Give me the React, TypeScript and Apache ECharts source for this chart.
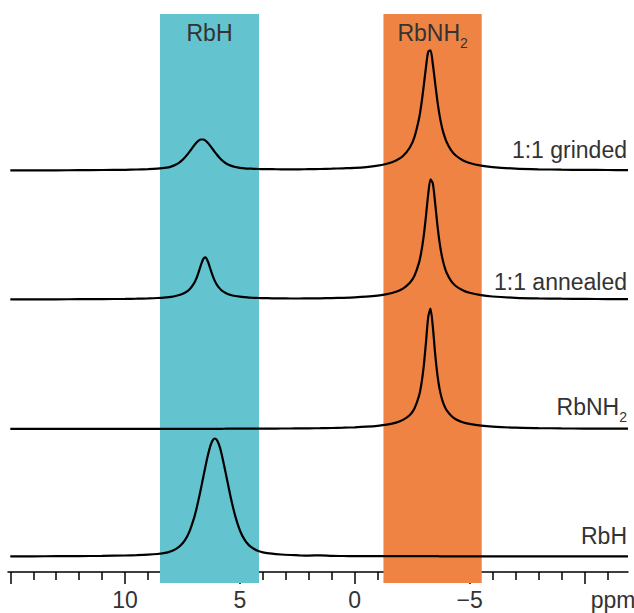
import { useEffect, useRef } from 'react';
import * as echarts from 'echarts';

// chemical shift grid (ppm), shared by all traces
const ppm = [
  15, 14, 13, 12, 11, 10, 9.5, 9, 8.6, 8.2, 8.0, 7.8, 7.6, 7.4, 7.2, 7.0,
  6.9, 6.8, 6.7, 6.6, 6.5, 6.4, 6.3, 6.2, 6.1, 6.0, 5.9, 5.8, 5.6, 5.4, 5.2, 5.0,
  4.8, 4.6, 4.4, 4.2, 4.0, 3.6, 3.2, 2.8, 2.4, 2.0, 1.5, 1.0, 0.5, 0,
  -0.5, -1.0, -1.4, -1.8, -2.1, -2.4, -2.6, -2.8, -2.9, -3.0, -3.1, -3.2, -3.3, -3.4,
  -3.5, -3.6, -3.7, -3.8, -3.9, -4.0, -4.2, -4.4, -4.7, -5.0, -5.5, -6, -7, -8, -9,
  -10, -11, -11.9,
];

// intensities above each trace's own baseline
const grinded = [
  0.2, 0.2, 0.2, 0.3, 0.5, 0.7, 1.0, 1.3, 1.8, 2.8, 3.9, 5.7, 8.6, 13.0, 18.7, 24.9,
  27.7, 29.9, 31.0, 31.0, 29.9, 27.7, 24.9, 21.8, 18.7, 15.7, 13.0, 10.6, 7.0, 4.9, 3.5, 2.7,
  2.2, 1.9, 1.7, 1.5, 1.4, 1.3, 1.2, 1.2, 1.2, 1.3, 1.5, 1.8, 2.2, 2.6,
  3.4, 4.8, 6.7, 10.0, 14.5, 23.0, 33.4, 51.9, 66.0, 83.8, 103.0, 118.8, 120.2, 106.5,
  87.7, 69.3, 54.4, 43.1, 34.8, 28.5, 20.1, 15.0, 10.3, 7.5, 4.8, 3.4, 1.9, 1.2, 0.8,
  0.6, 0.5, 0.4,
];
const annealed = [
  0.2, 0.2, 0.2, 0.3, 0.4, 0.6, 0.8, 1.1, 1.5, 2.2, 2.7, 3.5, 4.7, 6.7, 10.0, 16.1,
  20.9, 27.2, 34.3, 40.4, 42.1, 38.3, 31.5, 24.6, 18.9, 14.7, 11.6, 9.2, 6.3, 4.5, 3.5, 2.8,
  2.3, 1.9, 1.7, 1.5, 1.4, 1.2, 1.1, 1.0, 1.0, 1.1, 1.2, 1.4, 1.7, 2.1,
  2.8, 3.9, 5.3, 7.7, 10.9, 16.7, 23.8, 36.9, 47.7, 62.8, 83.1, 105.4, 120.1, 116.1,
  96.7, 74.4, 56.2, 42.9, 33.5, 26.8, 18.4, 13.5, 9.2, 6.7, 4.3, 3.0, 1.7, 1.1, 0.8,
  0.6, 0.4, 0.4,
];
const rbnh2 = [
  0.1, 0.1, 0.1, 0.1, 0.1, 0.1, 0.1, 0.1, 0.1, 0.2, 0.2, 0.2, 0.2, 0.2, 0.2, 0.2,
  0.2, 0.2, 0.2, 0.2, 0.2, 0.2, 0.2, 0.2, 0.2, 0.2, 0.2, 0.2, 0.3, 0.3, 0.3, 0.3,
  0.3, 0.3, 0.3, 0.4, 0.4, 0.4, 0.5, 0.5, 0.6, 0.7, 0.8, 1.0, 1.3, 1.7,
  2.3, 3.2, 4.4, 6.4, 9.1, 14.0, 20.5, 33.2, 44.6, 61.8, 86.1, 111.9, 120.4, 102.4,
  75.6, 54.1, 39.4, 29.8, 23.3, 18.8, 13.2, 9.8, 6.8, 5.1, 3.3, 2.3, 1.3, 0.9, 0.6,
  0.4, 0.3, 0.3,
];
const rbh = [
  0.2, 0.2, 0.3, 0.4, 0.6, 1.0, 1.3, 1.8, 2.5, 3.8, 5.2, 7.4, 10.7, 16.1, 24.9, 38.4,
  47.1, 56.9, 67.7, 79.0, 90.3, 100.8, 109.6, 115.6, 118.0, 116.4, 111.1, 102.8, 81.3, 59.0, 40.1, 26.0,
  16.8, 11.1, 7.8, 5.6, 4.2, 2.8, 2.0, 1.5, 1.1, 0.9, 1.2, 0.6, 0.5, 0.4,
  0.4, 0.4, 0.4, 0.4, 0.3, 0.3, 0.3, 0.3, 0.3, 0.3, 0.3, 0.3, 0.3, 0.3,
  0.3, 0.3, 0.2, 0.2, 0.2, 0.2, 0.2, 0.2, 0.2, 0.2, 0.2, 0.2, 0.1, 0.1, 0.1,
  0.1, 0.1, 0.1,
];

const traces = [grinded, annealed, rbnh2, rbh];
const baselines = [412.5, 283.5, 154, 26.5];
const traceLabels = ['1:1 grinded', '1:1 annealed', 'RbNH{s|2}', 'RbH'];

const bandRbH = [8.48, 4.17];
const bandRbNH2 = [-1.25, -5.53];
const bandLabels = ['RbH', 'RbNH{s|2}'];

const majorTicks = [15, 10, 5, 0, -5, -10];
const minorTicks = [14, 13, 12, 11, 9, 8, 7, 6, 4, 3, 2, 1, -1, -2, -3, -4, -6, -7, -8, -9, -11];
const tickLabels = [10, 5, 0, -5];
const unitPos = -11.25;
const unitLabel = 'ppm';

const FONT = "'Liberation Sans', Arial, Helvetica, sans-serif";
const TEXT = '#333333';
const FS = 23;
const subRich = {
  s: { fontSize: 14, fontFamily: FONT, color: TEXT, fill: TEXT, verticalAlign: 'bottom', lineHeight: 34 },
};

export default function App() {
  const ref = useRef<HTMLDivElement>(null);
  useEffect(() => {
    if (!ref.current) return;
    const chart = echarts.init(ref.current, undefined, { renderer: 'svg' });
    const fmt = (v: number) =>
      Math.abs(v - unitPos) < 1e-6 ? unitLabel : v < 0 ? '\u2212' + Math.abs(v) : String(v);
    const labelYs = [150, 282, 407, 536];
    const option: any = {
      animation: false,
      backgroundColor: '#ffffff',
      grid: { left: 8, right: 6, top: 14, bottom: 30, containLabel: false, outerBoundsMode: 'none' },
      xAxis: [
        {
          type: 'value', min: -11.9, max: 15.1, inverse: true, position: 'bottom', offset: -11,
          axisLine: { show: true, onZero: false, lineStyle: { color: '#000', width: 1.5 } },
          axisTick: { show: true, customValues: majorTicks, length: 12, lineStyle: { color: '#000', width: 1.5 } },
          axisLabel: {
            show: true, customValues: [...tickLabels, unitPos], formatter: fmt,
            fontSize: FS, color: TEXT, margin: 16, fontFamily: FONT, hideOverlap: false,
          },
          splitLine: { show: false },
        },
        {
          type: 'value', min: -11.9, max: 15.1, inverse: true, position: 'bottom', offset: -11,
          axisLine: { show: false, onZero: false },
          axisTick: { show: true, customValues: minorTicks, length: 8, lineStyle: { color: '#000', width: 1.5 } },
          axisLabel: { show: false },
          splitLine: { show: false },
        },
      ],
      yAxis: { type: 'value', min: 0, max: 569, show: false },
      series: [
        {
          type: 'line', data: [], z: 1, silent: true,
          markArea: {
            silent: true,
            label: {
              show: true, position: 'insideTop', distance: 2, fontSize: FS, color: TEXT,
              fontFamily: FONT, lineHeight: 34, rich: subRich,
            },
            data: [
              [{ xAxis: bandRbH[0], itemStyle: { color: '#63c3cf' }, label: { formatter: bandLabels[0] } }, { xAxis: bandRbH[1] }],
              [{ xAxis: bandRbNH2[0], itemStyle: { color: '#ee8344' }, label: { formatter: bandLabels[1] } }, { xAxis: bandRbNH2[1] }],
            ],
          },
        },
        ...traces.map((vals, k) => ({
          type: 'line', z: 3, silent: true,
          data: ppm.map((p, i) => [p, baselines[k] + vals[i]]),
          showSymbol: false, smooth: 0.25,
          lineStyle: { color: '#000', width: 2.2 },
        })),
      ],
      graphic: traceLabels.map((t, k) => ({
        type: 'text', x: 627, y: labelYs[k], silent: true,
        style: {
          text: t, rich: subRich, fontSize: FS, fontFamily: FONT, fill: TEXT, lineHeight: 34,
          align: 'right', verticalAlign: 'middle',
        },
      })),
    };
    chart.setOption(option);
    return () => chart.dispose();
  }, []);
  return <div ref={ref} style={{ position: 'absolute', left: 0, top: 0, width: 634, height: 613 }} />;
}
